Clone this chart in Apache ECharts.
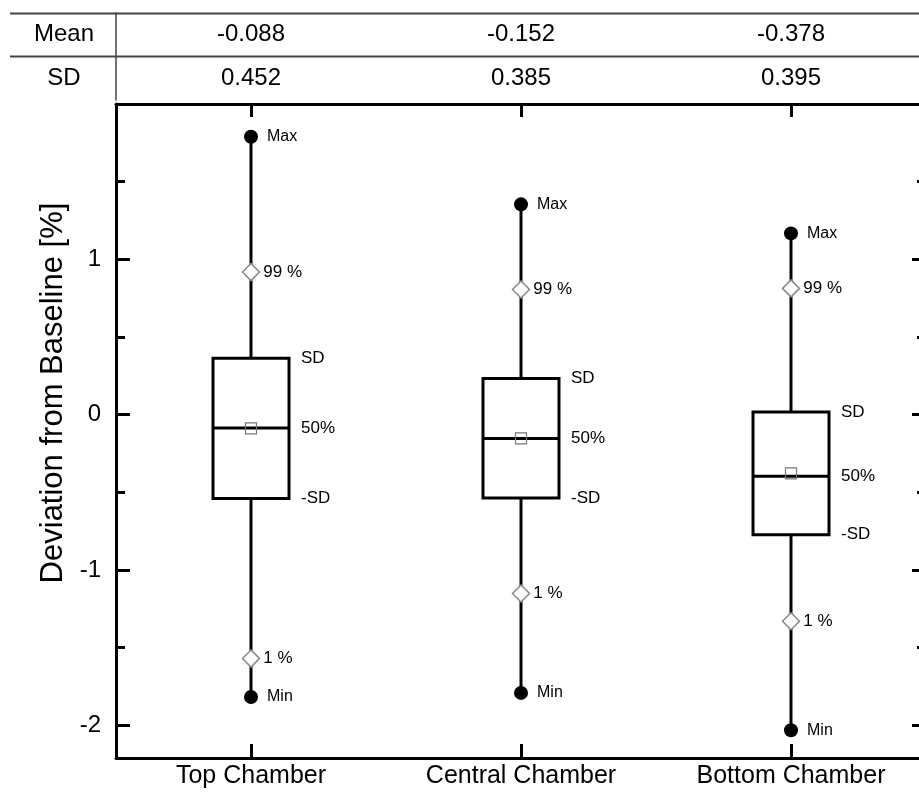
<!DOCTYPE html>
<html>
<head>
<meta charset="utf-8">
<title>Deviation from Baseline</title>
<script src="https://cdn.jsdelivr.net/npm/echarts@6/dist/echarts.min.js"></script>
<style>
  html, body { margin: 0; padding: 0; background: #fff; }
  #chart { width: 919px; height: 792px; }
</style>
</head>
<body>
<div id="chart"></div>
<script>
var categories = ['Top Chamber', 'Central Chamber', 'Bottom Chamber'];
var tableRows = ['Mean', 'SD'];
var means = [-0.088, -0.152, -0.378];
var sds = [0.452, 0.385, 0.395];
var medians = [-0.085, -0.153, -0.396];
var p99 = [0.918, 0.806, 0.813];
var p1 = [-1.570, -1.151, -1.330];
var maxs = [1.789, 1.354, 1.167];
var mins = [-1.817, -1.791, -2.031];
var yTicks = [-2, -1, 0, 1];
var yMinorTicks = [-1.5, -0.5, 0.5, 1.5];
var boxLabels = ['SD', '50%', '-SD'];

var FONT = 'Liberation Sans, Arial, sans-serif';
var chart = echarts.init(document.getElementById('chart'));

// box = mean +/- SD, whisker min..max
var boxData = categories.map(function (c, i) {
  return [i, mins[i], means[i] - sds[i], medians[i], means[i] + sds[i], maxs[i]];
});

var tableData = [];
tableRows.forEach(function (r, ri) {
  var vals = ri === 0 ? means : sds;
  vals.forEach(function (v, i) {
    tableData.push([i, ri, v]);
  });
});

function pairs(arr) {
  return arr.map(function (v, i) { return [i, v]; });
}

function renderBox(params, api) {
  var i = api.value(0);
  var pMin = api.coord([i, api.value(1)]);
  var pLow = api.coord([i, api.value(2)]);
  var pMed = api.coord([i, api.value(3)]);
  var pUp = api.coord([i, api.value(4)]);
  var pMax = api.coord([i, api.value(5)]);
  var x = pMed[0];
  var half = 38;
  var lineStyle = { stroke: '#000', lineWidth: 3 };
  var textStyle = function (txt, y) {
    return {
      type: 'text',
      style: {
        text: txt, x: x + half + 12, y: y,
        align: 'left', verticalAlign: 'middle',
        fontSize: 17, fontFamily: FONT, fill: '#000'
      }
    };
  };
  return {
    type: 'group',
    children: [
      { type: 'line', shape: { x1: x, y1: pMax[1], x2: x, y2: pUp[1] }, style: lineStyle },
      { type: 'line', shape: { x1: x, y1: pLow[1], x2: x, y2: pMin[1] }, style: lineStyle },
      { type: 'rect', shape: { x: x - half, y: pUp[1], width: half * 2, height: pLow[1] - pUp[1] },
        style: { fill: '#fff', stroke: '#000', lineWidth: 3 } },
      { type: 'line', shape: { x1: x - half, y1: pMed[1], x2: x + half, y2: pMed[1] }, style: lineStyle },
      textStyle(boxLabels[0], pUp[1]),
      textStyle(boxLabels[1], pMed[1]),
      textStyle(boxLabels[2], pLow[1])
    ]
  };
}

function renderCell(params, api) {
  var p = api.coord([api.value(0), api.value(1)]);
  return {
    type: 'text',
    style: {
      text: api.value(2).toFixed(3), x: p[0], y: p[1],
      align: 'center', verticalAlign: 'middle',
      fontSize: 24, fontFamily: FONT, fill: '#000'
    }
  };
}

var yMin = -2.21, yMax = 2.0;

function valueAxis(pos, ticks, len, withLine) {
  return {
    gridIndex: 0, type: 'value', position: pos, min: yMin, max: yMax,
    axisLine: { show: withLine, onZero: false, lineStyle: { color: '#000', width: 3 } },
    axisTick: { show: true, inside: true, length: len, customValues: ticks, lineStyle: { color: '#000', width: 3 } },
    axisLabel: { show: false },
    splitLine: { show: false }
  };
}

var leftAxis = valueAxis('left', yTicks, 14, true);
leftAxis.axisLabel = { show: true, customValues: yTicks, fontSize: 24, color: '#000', margin: 15, fontFamily: FONT };
leftAxis.name = 'Deviation from Baseline [%]';
leftAxis.nameLocation = 'middle';
leftAxis.nameRotate = 90;
leftAxis.nameGap = 39;
leftAxis.nameTextStyle = { fontSize: 31, color: '#000', fontFamily: FONT, padding: [0, 0, 0, 76] };

function marker(symbol, size, style, text, dist, fs, values) {
  return {
    type: 'scatter', xAxisIndex: 0, yAxisIndex: 0,
    symbol: symbol, symbolSize: size,
    itemStyle: style,
    label: { show: !!text, position: 'right', distance: dist, formatter: text, fontSize: fs, color: '#000', fontFamily: FONT },
    data: pairs(values), silent: true
  };
}

var diamondStyle = { color: '#fff', borderColor: '#888', borderWidth: 1.5, opacity: 1 };
var dotStyle = { color: '#000', opacity: 1 };

option = {
  animation: false,
  grid: [
    { left: 116, top: 104, width: 810, height: 654, outerBoundsMode: 'none' },
    { left: 116, top: 13, width: 810, height: 87, outerBoundsMode: 'none' }
  ],
  graphic: [
    { type: 'line', shape: { x1: 10, y1: 13.5, x2: 919, y2: 13.5 }, style: { stroke: '#444', lineWidth: 2 } },
    { type: 'line', shape: { x1: 10, y1: 56.5, x2: 919, y2: 56.5 }, style: { stroke: '#444', lineWidth: 2 } }
  ],
  xAxis: [
    {
      gridIndex: 0, type: 'category', data: categories, position: 'bottom',
      axisLine: { onZero: false, lineStyle: { color: '#000', width: 3 } },
      axisTick: { show: true, inside: true, alignWithLabel: true, length: 14, lineStyle: { color: '#000', width: 3 } },
      axisLabel: { fontSize: 25, color: '#000', margin: 6, fontFamily: FONT },
      splitLine: { show: false }
    },
    {
      gridIndex: 0, type: 'category', data: categories, position: 'top',
      axisLine: { onZero: false, lineStyle: { color: '#000', width: 3 } },
      axisTick: { show: true, inside: true, alignWithLabel: true, length: 13, lineStyle: { color: '#000', width: 3 } },
      axisLabel: { show: false },
      splitLine: { show: false }
    },
    { gridIndex: 1, type: 'category', data: categories, show: false }
  ],
  yAxis: [
    leftAxis,
    valueAxis('left', yMinorTicks, 9, false),
    valueAxis('right', yTicks, 14, true),
    valueAxis('right', yMinorTicks, 9, false),
    {
      gridIndex: 1, type: 'category', data: tableRows, inverse: true,
      axisLine: { show: true, onZero: false, lineStyle: { color: '#444', width: 1.5 } },
      axisTick: { show: false },
      axisLabel: { fontSize: 24, color: '#000', margin: 52, align: 'center', fontFamily: FONT },
      splitLine: { show: false }
    }
  ],
  series: [
    {
      type: 'custom', xAxisIndex: 0, yAxisIndex: 0,
      renderItem: renderBox,
      encode: { x: 0, y: [1, 2, 3, 4, 5] },
      data: boxData, silent: true
    },
    marker('diamond', 17, diamondStyle, '99 %', 3, 17, p99),
    marker('diamond', 17, diamondStyle, '1 %', 3, 17, p1),
    marker('circle', 14, dotStyle, 'Max', 9, 16, maxs),
    marker('circle', 14, dotStyle, 'Min', 9, 16, mins),
    marker('rect', 11, { color: 'rgba(255,255,255,0)', borderColor: '#777', borderWidth: 1.2, opacity: 1 }, '', 0, 12, means),
    {
      type: 'custom', xAxisIndex: 2, yAxisIndex: 4,
      renderItem: renderCell,
      encode: { x: 0, y: 1 },
      data: tableData, silent: true
    }
  ]
};

chart.setOption(option);
</script>
</body>
</html>
